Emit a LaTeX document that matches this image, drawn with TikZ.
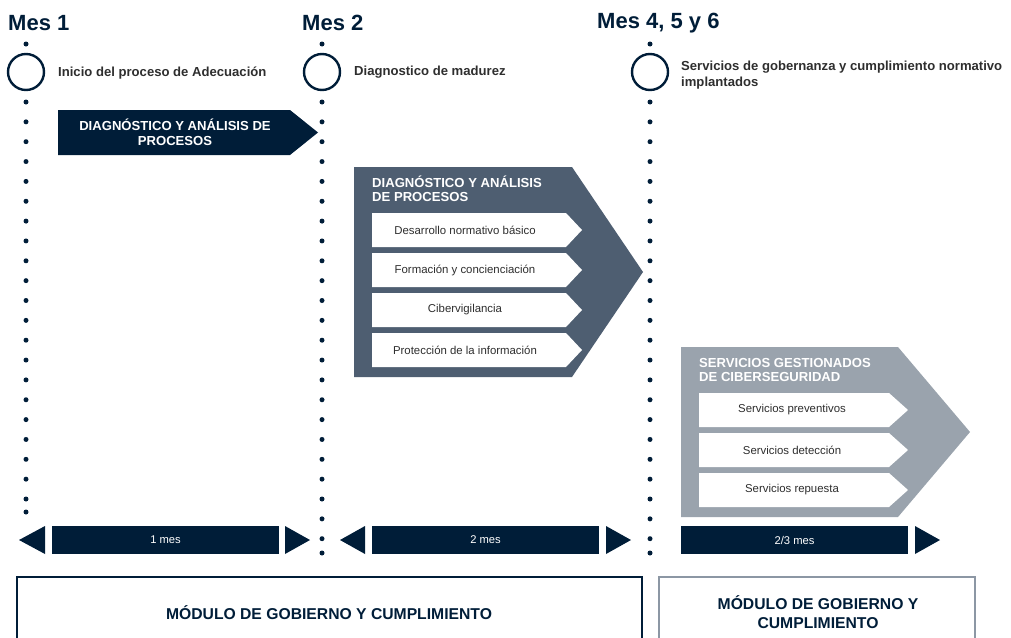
\documentclass[tikz,border=0pt]{standalone}
\usepackage{fontspec}
\setmainfont{Liberation Sans}
\definecolor{navy}{HTML}{001D38}
\definecolor{slate}{HTML}{4E5E71}
\definecolor{lgray}{HTML}{9AA3AD}
\definecolor{txtgray}{HTML}{2E2E2E}
\definecolor{bordergray}{HTML}{8C97A4}
\begin{document}
\begin{tikzpicture}[x=1pt,y=-1pt,
  mes/.style={font=\bfseries\fontsize{22}{24}\selectfont, text=navy, anchor=west, inner sep=0},
  milestone/.style={circle, draw=navy, line width=2.4pt, minimum size=36pt, inner sep=0},
  mtext/.style={font=\bfseries\fontsize{13.1}{16}\selectfont, text=txtgray, anchor=west, inner sep=0, align=left},
  dotnode/.style={circle, fill=navy, minimum size=5pt, inner sep=0},
  boxtitle/.style={font=\bfseries\fontsize{13.1}{14.5}\selectfont, text=white, inner sep=0},
  subtext/.style={font=\fontsize{11.4}{13}\selectfont, text=txtgray, inner sep=0},
  bartext/.style={font=\fontsize{11.2}{12}\selectfont, text=white, inner sep=0},
  modtext/.style={font=\bfseries\fontsize{15.7}{19}\selectfont, text=navy, inner sep=0, align=center}
]
\useasboundingbox (0,0) rectangle (1011,637);

% titles
\node[mes] (m1) at (8,23) {Mes 1};
\node[mes] (m2) at (302,23) {Mes 2};
\node[mes] (m3) at (597,23) {Mes 4, 5 y 6};

% dotted timelines
\foreach \x in {26,322,650} {\node[dotnode] at (\x,44) {};}
\foreach \k in {0,...,20} {\node[dotnode] at (26,102+19.85*\k) {};}
\node[dotnode] at (26,512) {};
\foreach \x in {322,650} {
  \foreach \k in {0,...,22} {\node[dotnode] at (\x,102+19.85*\k) {};}
  \node[dotnode] at (\x,553) {};
}

% milestones
\node[milestone] (c1) at (26,72) {};
\node[milestone] (c2) at (322,72) {};
\node[milestone] (c3) at (650,72) {};
\node[mtext] (t1) at (58,73) {Inicio del proceso de Adecuación};
\node[mtext] (t2) at (354,72) {Diagnostico de madurez};
\node[mtext] (t3) at (681,75) {Servicios de gobernanza y cumplimiento normativo\\implantados};

% arrow 1
\fill[navy] (58,110) -- (290,110) -- (318,132.5) -- (290,155) -- (58,155) -- cycle;
\node[boxtitle, align=center] (a1) at (175,132.5) {DIAGNÓSTICO Y ANÁLISIS DE\\PROCESOS};

% panel 2
\fill[slate] (354,167) -- (572,167) -- (643,272) -- (572,377) -- (354,377) -- cycle;
\node[boxtitle, align=left, anchor=west] (p2) at (372,189) {DIAGNÓSTICO Y ANÁLISIS\\DE PROCESOS};
\foreach \y/\t [count=\i] in {230/Desarrollo normativo básico, 270/Formación y concienciación, 310/Cibervigilancia, 350/Protección de la información} {
  \fill[white] (372,\y-17) -- (566,\y-17) -- (582,\y) -- (566,\y+17) -- (372,\y+17) -- cycle;
  \node[subtext] (s2\i) at (465,\y) {\t};
}

% panel 3
\fill[lgray] (681,347) -- (898,347) -- (970,432) -- (898,517) -- (681,517) -- cycle;
\node[boxtitle, align=left, anchor=west] (p3) at (699,370) {SERVICIOS GESTIONADOS\\DE CIBERSEGURIDAD};
\foreach \y/\t [count=\i] in {410/Servicios preventivos, 450/Servicios detección, 490/Servicios repuesta} {
  \fill[white] (699,\y-17) -- (889,\y-17) -- (908,\y) -- (889,\y+17) -- (699,\y+17) -- cycle;
  \node[subtext] (s3\i) at (792,\y) {\t};
}

% duration bars
\fill[navy] (19,540) -- (45,526) -- (45,554) -- cycle;
\fill[navy] (52,526) rectangle (279,554);
\fill[navy] (285,526) -- (310,540) -- (285,554) -- cycle;
\node[bartext] (b1) at (165.5,540) {1 mes};
\fill[navy] (340,540) -- (365,526) -- (365,554) -- cycle;
\fill[navy] (372,526) rectangle (599,554);
\fill[navy] (606,526) -- (631,540) -- (606,554) -- cycle;
\node[bartext] (b2) at (485.5,540) {2 mes};
\fill[navy] (681,526) rectangle (908,554);
\fill[navy] (915,526) -- (940,540) -- (915,554) -- cycle;
\node[bartext] (b3) at (794.5,540) {2/3 mes};

% modules
\draw[navy, line width=2pt] (17,645) -- (17,577) -- (642,577) -- (642,645);
\node[modtext] (mod1) at (329,613) {MÓDULO DE GOBIERNO Y CUMPLIMIENTO};
\draw[bordergray, line width=2.5pt] (659,645) -- (659,577) -- (975,577) -- (975,645);
\node[modtext] (mod2) at (818,612) {MÓDULO DE GOBIERNO Y\\CUMPLIMIENTO};
\end{tikzpicture}
\end{document}
